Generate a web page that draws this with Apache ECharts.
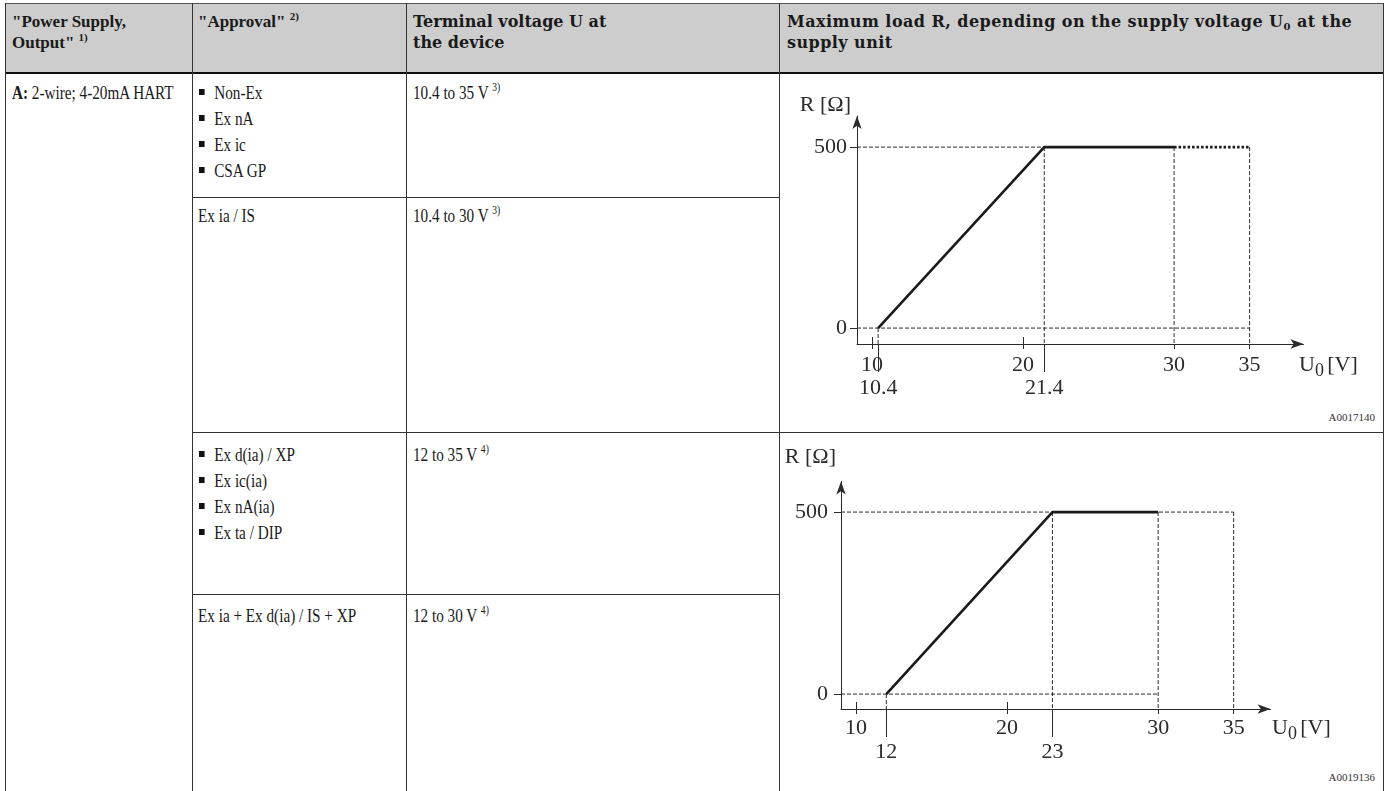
<!DOCTYPE html>
<html>
<head>
<meta charset="utf-8">
<title>Maximum load R</title>
<script src="https://cdn.jsdelivr.net/npm/echarts@6/dist/echarts.min.js"></script>
<style>
html, body { margin: 0; padding: 0; background: #fff; }
body { width: 1389px; height: 791px; position: relative; overflow: hidden; color: #1a1a1a; }
.head { position: absolute; left: 5px; top: 3px; width: 1379px; height: 70px; background: #cdcdcd; }
.hl, .vl { position: absolute; background: #333; z-index: 3; }
.h { position: absolute; top: 11px; font: bold 17px 'Liberation Serif', serif; line-height: 21px; white-space: nowrap; }
.h.wide { font: bold 16px 'DejaVu Serif', serif; line-height: 21px; }
.h sup { font-size: 11px; vertical-align: 7px; line-height: 0; }
.h sub { font-size: 10px; vertical-align: -3px; line-height: 0; }
.t { position: absolute; font: 19px 'Liberation Serif', serif; line-height: 26px; white-space: nowrap; transform: scaleX(0.8); transform-origin: 0 0; }
.t sup { font-size: 12px; vertical-align: 8px; line-height: 0; }
.t ul { list-style: none; margin: 0; padding: 0; }
.t li::before { content: ''; display: inline-block; width: 7px; height: 6px; background: #111; margin-right: 12px; vertical-align: 4px; }
.code { position: absolute; right: 14px; font: 11px 'Liberation Serif', serif; line-height: 13px; color: #333; }
#chart { position: absolute; left: 780px; top: 73px; width: 603px; height: 718px; z-index: 1; }
</style>
</head>
<body>
<div class="head"></div>

<div class="h" style="left:12px">"Power Supply,<br>Output" <sup>1)</sup></div>
<div class="h" style="left:198px">"Approval" <sup>2)</sup></div>
<div class="h wide" style="left:413px">Terminal voltage U at<br>the device</div>
<div class="h wide" style="left:787px;letter-spacing:0.45px">Maximum load R, depending on the supply voltage U<sub>0</sub> at the<br>supply unit</div>

<div class="t" style="left:12px;top:80px"><b>A:</b> 2-wire; 4-20mA HART</div>

<div class="t" style="left:199px;top:80px">
  <ul><li>Non-Ex</li><li>Ex nA</li><li>Ex ic</li><li>CSA GP</li></ul>
</div>
<div class="t" style="left:413px;top:80px">10.4 to 35 V <sup>3)</sup></div>

<div class="t" style="left:198px;top:203px">Ex ia / IS</div>
<div class="t" style="left:413px;top:203px">10.4 to 30 V <sup>3)</sup></div>

<div class="t" style="left:199px;top:442px">
  <ul><li>Ex d(ia) / XP</li><li>Ex ic(ia)</li><li>Ex nA(ia)</li><li>Ex ta / DIP</li></ul>
</div>
<div class="t" style="left:413px;top:442px">12 to 35 V <sup>4)</sup></div>

<div class="t" style="left:198px;top:603px">Ex ia + Ex d(ia) / IS + XP</div>
<div class="t" style="left:413px;top:603px">12 to 30 V <sup>4)</sup></div>

<div class="code" style="top:411px">A0017140</div>
<div class="code" style="top:771px">A0019136</div>

<!-- table rules -->
<div class="hl" style="left:5px;top:3px;width:1379px;height:1px;background:#555"></div>
<div class="hl" style="left:5px;top:72px;width:1379px;height:2px;background:#111"></div>
<div class="vl" style="left:5px;top:3px;width:1px;height:788px"></div>
<div class="vl" style="left:192px;top:3px;width:1px;height:788px"></div>
<div class="vl" style="left:406px;top:3px;width:1px;height:788px"></div>
<div class="vl" style="left:779px;top:3px;width:1px;height:788px"></div>
<div class="vl" style="left:1383px;top:3px;width:1px;height:788px"></div>
<div class="hl" style="left:192px;top:197px;width:587px;height:1px"></div>
<div class="hl" style="left:192px;top:432px;width:1192px;height:1px"></div>
<div class="hl" style="left:192px;top:594px;width:587px;height:1px"></div>

<div id="chart"></div>

<script>
// 坐标轴刻度
const uTicks = [10, 20, 30, 35]
const rTicks = [0, 500]
const uLimit = 35

// 上图：Non-Ex / Ex nA / Ex ic / CSA GP 与 Ex ia
const load1U = [10.4, 21.4, 30]
const load1R = [0, 500, 500]
const ext1U = [30, 35]
const ext1R = [500, 500]
const marks1 = [10.4, 21.4]

// 下图：Ex d(ia) 等
const load2U = [12, 23, 30]
const load2R = [0, 500, 500]
const marks2 = [12, 23]

const FONT = 'Liberation Serif'
const INK = '#2b2b2b'
const rMax = load1R[1]

// 每个网格的布局
const layout = [
  { left: 77, top: 43, width: 446.5, height: 228, xMin: 9, xMax: 38.57, yMin: -44, yMax: 586,
    lab1: 10, lab2: 33, yLab: 10, yNameGap: 11, yNamePad: 6, xNameGap: -4.5, xNamePad: 10 },
  { left: 61, top: 408.5, width: 429.5, height: 227.5, xMin: 9, xMax: 37.44, yMin: -41, yMax: 584,
    lab1: 8, lab2: 32, yLab: 13, yNameGap: 24.5, yNamePad: 5, xNameGap: 1.5, xNamePad: 8 }
]

const labelStyle = { fontFamily: FONT, fontSize: 22, color: INK }
const lineStyle = { color: INK, width: 1 }

const xAxes = []
const yAxes = []
layout.forEach((g, i) => {
  const marks = i === 0 ? marks1 : marks2
  const base = { gridIndex: i, type: 'value', min: g.xMin, max: g.xMax, position: 'bottom', splitLine: { show: false } }
  // 主轴：带箭头
  xAxes.push({
    ...base,
    axisLine: { show: true, onZero: false, symbol: ['none', 'arrow'], symbolSize: [7, 13], lineStyle },
    axisTick: { show: true, customValues: uTicks, length: 5, lineStyle },
    axisLabel: { ...labelStyle, customValues: uTicks, margin: g.lab1 },
    name: '{u|U}{s|0} {u|[V]}',
    nameLocation: 'end',
    nameGap: g.xNameGap,
    nameTextStyle: {
      align: 'left', verticalAlign: 'top', padding: [g.xNamePad, 0, 0, 0],
      rich: {
        u: { fontFamily: FONT, fontSize: 22, color: INK, lineHeight: 24, verticalAlign: 'top' },
        s: { fontFamily: FONT, fontSize: 18, color: INK, lineHeight: 34, verticalAlign: 'middle' }
      }
    }
  })
  // 第二行标签：起始电压和拐点
  xAxes.push({
    ...base,
    axisLine: { show: false, onZero: false },
    axisTick: { show: true, customValues: marks, length: 28, lineStyle },
    axisLabel: { ...labelStyle, customValues: marks, margin: g.lab2 }
  })
  // 穿过轴线的短刻度
  xAxes.push({
    ...base,
    axisLine: { show: false, onZero: false },
    axisTick: { show: true, inside: true, customValues: uTicks.slice(0, 2), length: 7, lineStyle },
    axisLabel: { show: false }
  })
  yAxes.push({
    gridIndex: i, type: 'value', min: g.yMin, max: g.yMax, splitLine: { show: false },
    axisLine: { show: true, onZero: false, symbol: ['none', 'arrow'], symbolSize: [7, 13], lineStyle },
    axisTick: { show: true, customValues: rTicks, length: 7, lineStyle },
    axisLabel: { ...labelStyle, customValues: rTicks, margin: g.yLab },
    name: 'R [Ω]',
    nameLocation: 'end',
    nameGap: g.yNameGap,
    nameTextStyle: { ...labelStyle, align: 'right', verticalAlign: 'middle', padding: [0, g.yNamePad, 0, 0] }
  })
})

const zip = (xs, ys) => xs.map((x, k) => [x, ys[k]])

// 虚线辅助线
const guide = (a, b, i) => ({
  type: 'line', xAxisIndex: i * 3, yAxisIndex: i, data: [a, b], symbol: 'none', silent: true,
  lineStyle: { type: [4, 2], width: 1, color: INK }, z: 1
})

const g1 = layout[0]
const g2 = layout[1]
const guides = [
  guide([g1.xMin, rMax], [load1U[1], rMax], 0),
  guide([g1.xMin, 0], [uLimit, 0], 0),
  guide([load1U[0], 0], [load1U[0], g1.yMin], 0),
  ...[load1U[1], load1U[2], uLimit].map(u => guide([u, rMax], [u, g1.yMin], 0)),
  guide([g2.xMin, rMax], [uLimit, rMax], 1),
  guide([g2.xMin, 0], [load2U[2], 0], 1),
  guide([load2U[0], 0], [load2U[0], g2.yMin], 1),
  ...[load2U[1], load2U[2], uLimit].map(u => guide([u, rMax], [u, g2.yMin], 1))
]

const curve = (data, i, type) => ({
  type: 'line', xAxisIndex: i * 3, yAxisIndex: i, data, symbol: 'none', silent: true,
  lineStyle: { type, width: 2.6, color: '#1a1a1a', cap: 'butt' }, z: 3
})

const chart = echarts.init(document.getElementById('chart'))
chart.setOption({
  animation: false,
  grid: layout.map(g => ({ left: g.left, top: g.top, width: g.width, height: g.height, containLabel: false, outerBoundsMode: 'none' })),
  xAxis: xAxes,
  yAxis: yAxes,
  series: [
    ...guides,
    curve(zip(load1U, load1R), 0, 'solid'),
    curve(zip(ext1U, ext1R), 0, [2.5, 2]),
    curve(zip(load2U, load2R), 1, 'solid')
  ]
})
</script>
</body>
</html>
